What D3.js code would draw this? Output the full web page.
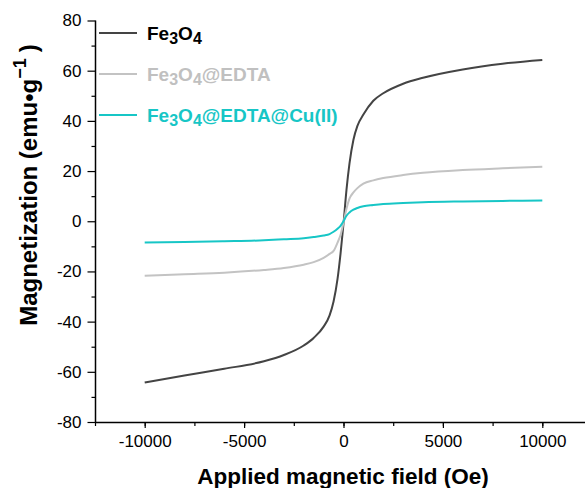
<!DOCTYPE html>
<html>
<head>
<meta charset="utf-8">
<script src="https://cdnjs.cloudflare.com/ajax/libs/d3/7.8.5/d3.min.js"></script>
<style>
  body { margin: 0; background: #fff; }
  svg { display: block; font-family: "Liberation Sans", Arial, sans-serif; }
</style>
</head>
<body>
<div class="chart"></div>
<script>
// applied field (Oe) sampled points
const field = [-10000, -8000, -6000, -4000, -3000, -2000, -1500, -1000, -700, -500, -300, -150, 0,
               150, 300, 500, 700, 1000, 1500, 2000, 3000, 4000, 6000, 8000, 10000];

// magnetization (emu/g)
const fe3o4 = [-64.3, -61.5, -58.8, -55.8, -53.3, -49.5, -46.5, -42, -37.5, -32, -23, -13, -1,
               12.5, 23, 32.5, 38, 42.5, 48, 51, 54.8, 57.2, 60.5, 62.8, 64.3];
const fe3o4Edta = [-21.7, -21.1, -20.5, -19.4, -18.6, -17.3, -16.3, -14.6, -13, -11.8, -8.5, -5.5, -0.5,
                   5, 9, 11.5, 13.2, 15, 16.3, 17.2, 18.4, 19.3, 20.4, 21.1, 21.7];
const fe3o4EdtaCu = [-8.5, -8.3, -8.0, -7.6, -7.2, -6.8, -6.3, -5.7, -5.1, -4.2, -3, -1.8, 0,
                     2.2, 3.5, 4.6, 5.3, 6.0, 6.5, 6.9, 7.3, 7.6, 7.9, 8.1, 8.3];

const xTicks = [-10000, -5000, 0, 5000, 10000];
const yTicks = [-80, -60, -40, -20, 0, 20, 40, 60, 80];

const width = 585;
const height = 488;

const svg = d3.select(".chart")
  .append("svg")
  .attr("width", width)
  .attr("height", height);

const x = d3.scaleLinear().domain([-12500, 12500]).range([95, 592]);
const y = d3.scaleLinear().domain([-80, 80]).range([422, 20.5]);

// x axis, major + minor
svg.append("g")
  .attr("transform", "translate(0,422)")
  .call(d3.axisBottom(x).tickValues(d3.range(-12500, 12501, 2500)).tickSize(4).tickFormat(""))
  .call(g => g.select(".domain").remove())
  .selectAll("line").attr("stroke", "#000").attr("stroke-width", 1.2);

svg.append("g")
  .attr("transform", "translate(0,422)")
  .call(d3.axisBottom(x).tickValues(xTicks).tickSize(6).tickPadding(7).tickFormat(d3.format("d")))
  .call(g => g.select(".domain").attr("d", "M95,0.5H585").attr("stroke-width", 1.5))
  .call(g => g.selectAll("line").attr("stroke-width", 1.2))
  .selectAll("text")
  .attr("font-size", 17)
  .attr("font-family", "Liberation Sans, Arial, sans-serif")
  .text(d => d < 0 ? "-" + Math.abs(d) : d);

// y axis, major + minor
svg.append("g")
  .attr("transform", "translate(95.5,0)")
  .call(d3.axisLeft(y).tickValues(d3.range(-70, 80, 20)).tickSize(4).tickFormat(""))
  .call(g => g.select(".domain").remove())
  .selectAll("line").attr("stroke-width", 1.2);

svg.append("g")
  .attr("transform", "translate(95.5,0)")
  .call(d3.axisLeft(y).tickValues(yTicks).tickSize(8).tickPadding(6))
  .call(g => g.select(".domain").attr("d", "M0,20.5V422").attr("stroke-width", 1.5))
  .call(g => g.selectAll("line").attr("stroke-width", 1.2))
  .selectAll("text")
  .attr("font-size", 17)
  .attr("font-family", "Liberation Sans, Arial, sans-serif")
  .text(d => d < 0 ? "-" + Math.abs(d) : d);

// curves
const series = [
  { values: fe3o4, color: "#444444" },
  { values: fe3o4Edta, color: "#c3c3c3" },
  { values: fe3o4EdtaCu, color: "#17c6c6" }
];

const line = d3.line()
  .x(d => x(d[0]))
  .y(d => y(d[1]))
  .curve(d3.curveMonotoneX);

svg.selectAll("path.curve")
  .data(series)
  .enter()
  .append("path")
  .attr("class", "curve")
  .attr("fill", "none")
  .attr("stroke", d => d.color)
  .attr("stroke-width", 2)
  .attr("d", d => line(field.map((f, i) => [f, d.values[i]])));

// legend
const legend = [
  { parts: [["Fe", 0], ["3", 1], ["O", 0], ["4", 1]], line: "#444444", text: "#000000", y: 33 },
  { parts: [["Fe", 0], ["3", 1], ["O", 0], ["4", 1], ["@EDTA", 0]], line: "#c3c3c3", text: "#c0c0c0", y: 74 },
  { parts: [["Fe", 0], ["3", 1], ["O", 0], ["4", 1], ["@EDTA@Cu(II)", 0]], line: "#17c6c6", text: "#17c6c6", y: 115 }
];

legend.forEach(function(item) {
  svg.append("line")
    .attr("x1", 99).attr("x2", 137)
    .attr("y1", item.y).attr("y2", item.y)
    .attr("stroke", item.line)
    .attr("stroke-width", 2);

  const t = svg.append("text")
    .attr("x", 147)
    .attr("y", item.y + 7)
    .attr("fill", item.text)
    .attr("font-weight", "bold")
    .attr("font-size", 19);

  let low = false;
  item.parts.forEach(function(p) {
    const sub = p[1] === 1;
    const shift = sub && !low ? 4 : (!sub && low ? -4 : 0);
    low = sub;
    t.append("tspan")
      .attr("dy", shift)
      .attr("font-size", sub ? 16 : 19)
      .text(p[0]);
  });
});

// axis titles
svg.append("text")
  .attr("x", 343)
  .attr("y", 484)
  .attr("text-anchor", "middle")
  .attr("font-weight", "bold")
  .attr("font-size", 22.5)
  .text("Applied magnetic field (Oe)");

const yTitle = svg.append("text")
  .attr("transform", "translate(37,185) rotate(-90)")
  .attr("text-anchor", "middle")
  .attr("font-weight", "bold")
  .attr("font-size", 24);

yTitle.append("tspan").text("Magnetization (emu\u2022g");
yTitle.append("tspan").attr("dy", -11).attr("font-size", 18).text("\u22121");
yTitle.append("tspan").attr("dy", 11).attr("dx", 6).text(")");
</script>
</body>
</html>
